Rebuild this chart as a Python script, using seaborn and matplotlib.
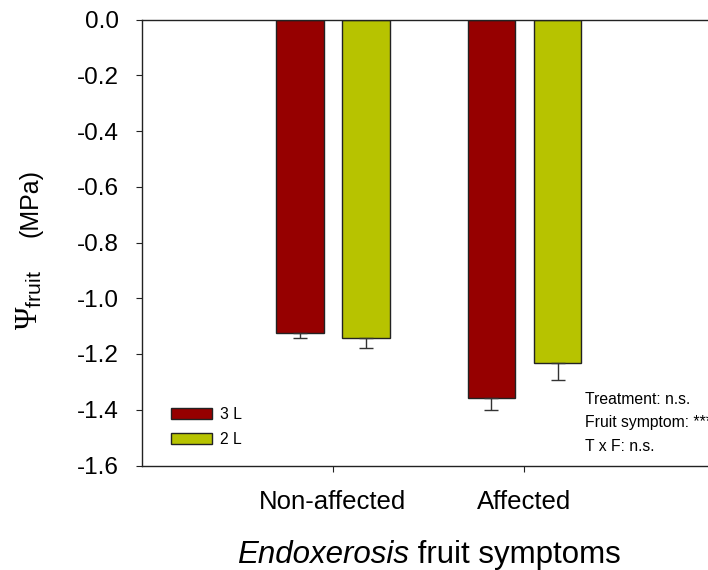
import matplotlib
matplotlib.use("Agg")
import matplotlib.pyplot as plt
import seaborn as sns
import pandas as pd
from matplotlib.patches import Patch

# ---- data ----
symptoms = ["Non-affected", "Affected"]
treatments = ["3 L", "2 L"]
psi_3L = [-1.125, -1.357]
psi_2L = [-1.143, -1.233]
err_3L = [0.018, 0.043]
err_2L = [0.034, 0.062]
colors = ["#960000", "#B7C300"]
yticks = [0.0, -0.2, -0.4, -0.6, -0.8, -1.0, -1.2, -1.4, -1.6]
stats_lines = ["Treatment: n.s.", "Fruit symptom: ***", "T x F: n.s."]
xlabel_parts = ["Endoxerosis", " fruit symptoms"]
ylabel_sym = r"$\mathrm{\Psi}_{\mathsf{fruit}}$"
ylabel_unit = "(MPa)"

df = pd.DataFrame({
    "symptom": symptoms * 2,
    "treatment": [treatments[0]] * 2 + [treatments[1]] * 2,
    "psi": psi_3L + psi_2L,
    "err": err_3L + err_2L,
})

sns.set_theme(style="white")
plt.rcParams["font.family"] = ["Liberation Sans", "DejaVu Sans"]
plt.rcParams["axes.unicode_minus"] = False
plt.rcParams["mathtext.fontset"] = "custom"
plt.rcParams["mathtext.rm"] = "Liberation Serif"
plt.rcParams["mathtext.sf"] = "Liberation Sans"
plt.rcParams["mathtext.it"] = "Liberation Serif:italic"
for k in ["text.color", "axes.labelcolor", "xtick.color", "ytick.color"]:
    plt.rcParams[k] = "black"

W, H = 708, 570
fig = plt.figure(figsize=(W / 100, H / 100), dpi=100)
ax = fig.add_axes([141.5 / W, 1 - 465.5 / H, 574.5 / W, 446 / H])

sns.barplot(data=df, x="symptom", y="psi", hue="treatment", order=symptoms,
            hue_order=treatments, palette=colors, errorbar=None, width=0.694,
            gap=0.285, edgecolor="#222222", linewidth=1.0, saturation=1,
            legend=False, ax=ax)

errs = {treatments[0]: err_3L, treatments[1]: err_2L}
for cont, t in zip(ax.containers, treatments):
    for bar, e in zip(cont, errs[t]):
        xc = bar.get_x() + bar.get_width() / 2
        yv = bar.get_y() + bar.get_height()
        ax.errorbar([xc], [yv], yerr=[[e], [0]], fmt="none", ecolor="#333333",
                    elinewidth=1.0, capsize=4.9, capthick=1.0, zorder=1)

ax.set_xlim(-1, 2)
ax.set_ylim(-1.6, 0.0)
ax.set_yticks(yticks)
ax.set_yticklabels([f"{v:.1f}" for v in yticks])

for s in ["left", "bottom", "top"]:
    ax.spines[s].set_visible(True)
    ax.spines[s].set_color("#222222")
    ax.spines[s].set_linewidth(1.0)
ax.spines["right"].set_visible(False)

ax.tick_params(axis="y", direction="out", length=4.3, width=0.8, color="#222222",
               labelsize=17.5, pad=12, left=True)
ax.tick_params(axis="x", direction="out", length=4.3, width=0.8, color="#222222",
               labelsize=18.5, pad=13, bottom=True)
ax.set_xlabel("")
ax.set_ylabel("")

# x-axis title: italic + normal parts, centred under the two groups
fig.canvas.draw()
r = fig.canvas.get_renderer()
t1 = fig.text(0, 0, xlabel_parts[0], fontsize=22.5, style="italic", va="baseline")
t2 = fig.text(0, 0, xlabel_parts[1], fontsize=22.5, va="baseline")
w1 = t1.get_window_extent(r).width
w2 = t2.get_window_extent(r).width
ticks_px = ax.transData.transform([(0, 0), (1, 0)])[:, 0]
cx = ticks_px.mean()
x0 = cx - (w1 + w2) / 2
base_y = 1 - 563 / H
t1.set_position((x0 / W, base_y))
t2.set_position(((x0 + w1) / W, base_y))

# y-axis title
fig.text(38 / W, 1 - 330 / H, ylabel_sym, fontsize=22, rotation=90,
         rotation_mode="anchor", ha="left", va="baseline")
fig.text(38 / W, 1 - 237 / H, ylabel_unit, fontsize=18, rotation=90,
         rotation_mode="anchor", ha="left", va="baseline")

handles = [Patch(facecolor=c, edgecolor="#222222", linewidth=1.0) for c in colors]
fig.legend(handles, treatments, loc="upper left",
           bbox_to_anchor=(171 / W, 1 - 407 / H), frameon=False,
           fontsize=11.3, handlelength=2.6, handleheight=0.72, handletextpad=0.5,
           labelspacing=0.62, borderpad=0, borderaxespad=0)

for i, line in enumerate(stats_lines):
    fig.text(585 / W, 1 - (404 + 23.5 * i) / H, line, fontsize=11.3,
             va="baseline", ha="left")

fig.savefig("out.png", dpi=100)
